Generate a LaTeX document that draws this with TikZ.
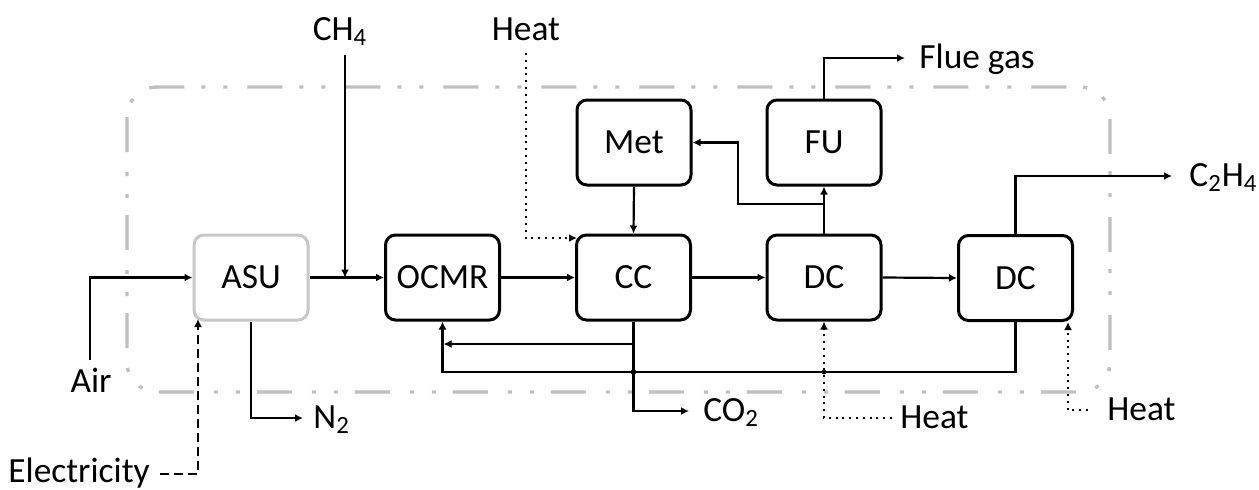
\documentclass[tikz,border=0pt]{standalone}
\usepackage{fontspec}
\setmainfont{Carlito}
\usetikzlibrary{arrows.meta}
\begin{document}
\begin{tikzpicture}[x=0.5pt,y=-0.5pt,
  txt/.style={font=\fontsize{17.7}{21}\selectfont},
  unit/.style={draw,line width=1.5pt,rounded corners=5pt,minimum width=57pt,minimum height=42.5pt,inner sep=0pt,txt},
  grayunit/.style={unit,draw=black!22},
  lbl/.style={inner sep=0pt,txt},
  tip/.style={-{Latex[length=4pt,width=4pt]}},
  flow/.style={line width=1.1pt,tip},
  heatline/.style={line width=1.1pt,dash pattern=on 1pt off 2.4pt,tip},
  elecline/.style={line width=1.1pt,dash pattern=on 4.5pt off 2.5pt,tip},
  boundary/.style={draw=black!25,line width=1.7pt,rounded corners=15pt,dash pattern=on 17.5pt off 10pt on 2pt off 9pt on 2pt off 8.5pt}
]
\useasboundingbox (0,0) rectangle (1259,489);
% system boundary
\draw[boundary] (127,87) rectangle (1110,392);
% units
\node[grayunit] (ASU) at (251,277.5) {ASU};
\node[unit] (OCMR) at (442.5,277.5) {OCMR};
\node[unit] (CC) at (633.5,277.5) {CC};
\node[unit] (DC1) at (824,277.5) {DC};
\node[unit] (DC2) at (1015.5,278) {DC};
\node[unit] (Met) at (634,142.5) {Met};
\node[unit] (FU) at (824,142.5) {FU};
% labels
\node[lbl,anchor=base] (air) at (91,392) {Air};
\node[lbl,anchor=base west] (elec) at (8,482) {Electricity};
\node[lbl,anchor=base west] (n2) at (313,428) {N\textsubscript{2}};
\node[lbl,anchor=base west] (co2) at (703,421) {CO\textsubscript{2}};
\node[lbl,anchor=base west] (heat1) at (900,428) {Heat};
\node[lbl,anchor=base west] (heat2) at (1107,420) {Heat};
\node[lbl,anchor=base west] (flue) at (919,68) {Flue gas};
\node[lbl,anchor=base west] (c2h4) at (1189,186) {C\textsubscript{2}H\textsubscript{4}};
\node[lbl,anchor=base] (ch4) at (340,40) {CH\textsubscript{4}};
\node[lbl,anchor=base] (heat0) at (526,40) {Heat};
% coordinates
\coordinate (airS) at (90,360);
\coordinate (elecS) at (160,474);
\coordinate (elecE) at (198,319);
\coordinate (n2E) at (303,418);
\coordinate (ch4S) at (345,55);
\coordinate (ch4J) at (345,277.5);
\coordinate (heat0S) at (526,53);
\coordinate (heat0E) at (577,238);
\coordinate (br1) at (824,204);
\coordinate (br2) at (738,204);
\coordinate (flueE) at (905,58);
\coordinate (c2E) at (1172,176);
\coordinate (rc) at (442.5,372);
\coordinate (ccb) at (633.5,344);
\coordinate (rcv) at (443.5,344);
\coordinate (co2E) at (689,411);
\coordinate (h1S) at (892,418);
\coordinate (h2S) at (1088,410);
\coordinate (h2E) at (1068,322);
% connectors
\draw[flow] (airS) |- (ASU.west);
\draw[elecline] (elecS) -| (elecE);
\draw[flow] (ASU.south) |- (n2E);
\draw[flow] (ASU.east) -- (OCMR.west);
\draw[flow] (ch4S) -- (ch4J);
\draw[flow] (OCMR.east) -- (CC.west);
\draw[flow] (CC.east) -- (DC1.west);
\draw[flow] (DC1.east) -- (DC2.west);
\draw[flow] (Met.south) -- (CC.north);
\draw[heatline] (heat0S) |- (heat0E);
\draw[flow] (DC1.north) -- (FU.south);
\draw[flow] (br1) -- (br2) |- (Met.east);
\draw[flow] (FU.north) |- (flueE);
\draw[flow] (DC2.south) |- (rc) -- (OCMR.south);
\draw[flow] (DC2.north) |- (c2E);
\draw[flow] (CC.south) |- (co2E);
\draw[flow] (ccb) -- (rcv);
\draw[heatline] (h1S) -| (DC1.south);
\draw[heatline] (h2S) -| (h2E);
\fill (633.5,372) circle (1.4pt);
\fill (824,372) circle (1.2pt);
\end{tikzpicture}
\end{document}
